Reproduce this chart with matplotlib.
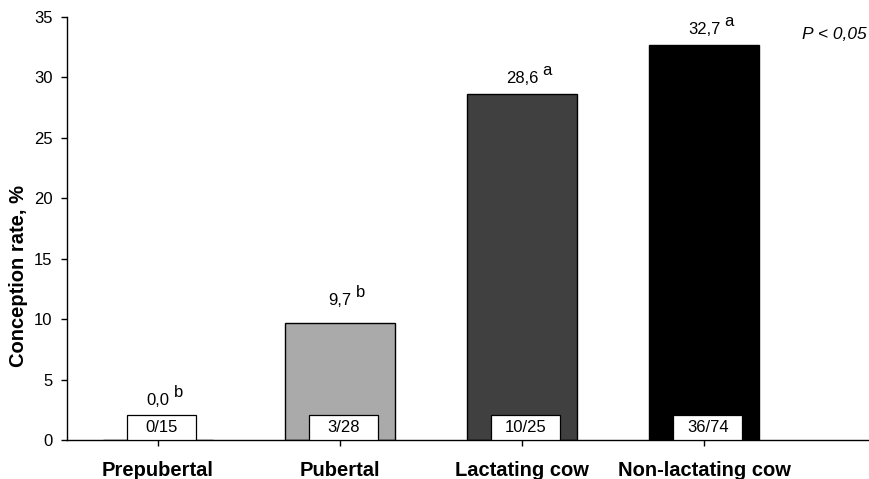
import matplotlib
matplotlib.use("Agg")
import matplotlib.pyplot as plt
from matplotlib.patches import Rectangle

plt.rcParams["font.family"] = ["Liberation Sans", "DejaVu Sans"]

# Data
categories = ["Prepubertal", "Pubertal", "Lactating cow", "Non-lactating cow"]
conception_rate = [0.0, 9.7, 28.6, 32.7]
value_labels = ["0,0", "9,7", "28,6", "32,7"]
significance = ["b", "b", "a", "a"]
pregnant_over_total = ["0/15", "3/28", "10/25", "36/74"]
y_ticks = [0, 5, 10, 15, 20, 25, 30, 35]

# Style
bar_colors = ["#FFFFFF", "#AAAAAA", "#404040", "#000000"]
label_pad_pt = [7, 13, 8, 8]
bar_width = 0.6
box_width = 0.38
box_height = 2.1
box_shift = 0.02

fig = plt.figure(figsize=(8.69, 4.79), dpi=100)
ax = fig.add_axes([0.077, 0.0814, 0.923, 0.8831])

x = list(range(len(categories)))
ax.bar(x, conception_rate, width=bar_width, color=bar_colors,
       edgecolor="black", linewidth=1.0, zorder=2)

for xi, val, vlab, sig, n, pad in zip(x, conception_rate, value_labels,
                                      significance, pregnant_over_total,
                                      label_pad_pt):
    # white count box sitting on the baseline
    ax.add_patch(Rectangle((xi + box_shift - box_width / 2, 0), box_width,
                           box_height, facecolor="white", edgecolor="black",
                           linewidth=0.9, zorder=3))
    ax.text(xi + box_shift, box_height / 2, n, ha="center", va="center",
            fontsize=12, zorder=4)
    top = max(val, box_height)
    t = ax.annotate(vlab, xy=(xi, top), xytext=(0, pad),
                    textcoords="offset points", ha="center",
                    va="baseline", fontsize=12)
    ax.annotate(sig, xy=(1, 0.5), xycoords=t, xytext=(3, 2.5),
                textcoords="offset points", ha="left", va="baseline",
                fontsize=12)

ax.text(0.997, 33.2, "P < 0,05", transform=ax.get_yaxis_transform(),
        ha="right", va="baseline", fontsize=12.5, style="italic")

ax.set_xlim(-0.5, 3.906)
ax.set_ylim(0, 35)
ax.set_yticks(y_ticks)
ax.set_yticklabels([str(v) for v in y_ticks])
ax.set_xticks(x)
ax.set_xticklabels(categories, fontsize=14.5, fontweight="bold")
ax.tick_params(axis="y", labelsize=12, direction="out", length=4.3,
               width=1, pad=6)
ax.tick_params(axis="x", direction="out", length=4.3, width=1, pad=11)
ax.set_ylabel("Conception rate, %", fontsize=14.5, fontweight="bold",
              labelpad=4)
ax.yaxis.label.set_y(0.388)

for side in ("top", "right"):
    ax.spines[side].set_visible(False)
for side in ("left", "bottom"):
    ax.spines[side].set_linewidth(1.0)

fig.savefig("out.png", dpi=100, facecolor="white")
